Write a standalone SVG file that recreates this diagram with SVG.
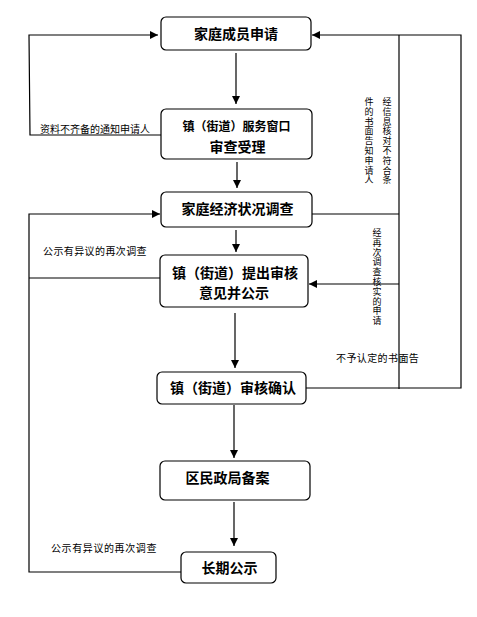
<svg xmlns="http://www.w3.org/2000/svg" width="477" height="617" viewBox="0 0 477 617">
<style>
.box{fill:#fff;stroke:#000;stroke-width:1.2}
.t{font-family:"Liberation Sans","Noto Sans CJK SC",sans-serif;font-weight:bold;font-size:14px;fill:#000;text-anchor:middle}
.s{font-family:"Liberation Sans","Noto Sans CJK SC",sans-serif;font-size:10px;fill:#000}
.v{font-family:"Noto Sans CJK SC",sans-serif;font-size:9px;fill:#000;writing-mode:vertical-rl;text-orientation:upright;letter-spacing:0.8px}
.ln{fill:none;stroke:#000;stroke-width:1.2}
</style>
<defs>
<marker id="ah" viewBox="0 0 10 10" refX="10" refY="5" markerWidth="8" markerHeight="8" markerUnits="userSpaceOnUse" orient="auto">
<path d="M0,0 L10,5 L0,10 z" fill="#000"/>
</marker>
</defs>
<rect width="477" height="617" fill="#fff"/>
<g id="connectors">
<line class="ln" x1="236" y1="53" x2="236" y2="104" marker-end="url(#ah)"/>
<line class="ln" x1="237" y1="162" x2="237" y2="188" marker-end="url(#ah)"/>
<line class="ln" x1="236" y1="230" x2="236" y2="252" marker-end="url(#ah)"/>
<line class="ln" x1="235" y1="313" x2="235" y2="368" marker-end="url(#ah)"/>
<line class="ln" x1="234" y1="405" x2="234" y2="458" marker-end="url(#ah)"/>
<line class="ln" x1="234" y1="502" x2="234" y2="546" marker-end="url(#ah)"/>
<polyline class="ln" points="161,135 30,135 29,35 158,35" marker-end="url(#ah)"/>
<polyline class="ln" points="181,572 29,572 29,214 160,214" marker-end="url(#ah)"/>
<line class="ln" x1="160" y1="278" x2="29" y2="278"/>
<polyline class="ln" points="312,214 399,214"/>
<line class="ln" x1="399" y1="35" x2="399" y2="389"/>
<line class="ln" x1="399" y1="284" x2="309" y2="284" marker-end="url(#ah)"/>
<polyline class="ln" points="306,388 461,388 461,35 312,35" marker-end="url(#ah)"/>
<text class="s" x="40" y="133">资料不齐备的通知申请人</text>
<text class="s" x="43" y="255" style="letter-spacing:0.4px">公示有异议的再次调查</text>
<text class="s" x="51" y="552" style="letter-spacing:0.6px">公示有异议的再次调查</text>
<text class="v" x="387" y="97">经信息核对不符合条</text>
<text class="v" x="369" y="97">件的书面告知申请人</text>
<text class="v" x="377" y="228">经再次调查核实的申请</text>
<text class="s" x="336" y="362" style="letter-spacing:0.4px">不予认定的书面告</text>
</g>
<g id="n1"><rect class="box" x="161" y="17" width="150" height="33" rx="5"/><text class="t" x="236" y="39">家庭成员申请</text></g>
<g id="n2"><rect class="box" x="161" y="109" width="151" height="50" rx="5"/><text class="t" x="236.5" y="131" style="font-size:12px">镇（街道）服务窗口</text><text class="t" x="237.5" y="152">审查受理</text></g>
<g id="n3"><rect class="box" x="161" y="192" width="151" height="35" rx="5"/><text class="t" x="237.5" y="214">家庭经济状况调查</text></g>
<g id="n4"><rect class="box" x="160" y="255" width="148" height="52" rx="5"/><text class="t" x="235" y="278">镇（街道）提出审核</text><text class="t" x="234" y="298">意见并公示</text></g>
<g id="n5"><rect class="box" x="157" y="372" width="149" height="32" rx="5"/><text class="t" x="233" y="393">镇（街道）审核确认</text></g>
<g id="n6"><rect class="box" x="160" y="461" width="150" height="39" rx="5"/><text class="t" x="227.5" y="483">区民政局备案</text></g>
<g id="n7"><rect class="box" x="181" y="552" width="95" height="31" rx="5"/><text class="t" x="229.5" y="573">长期公示</text></g>
</svg>
